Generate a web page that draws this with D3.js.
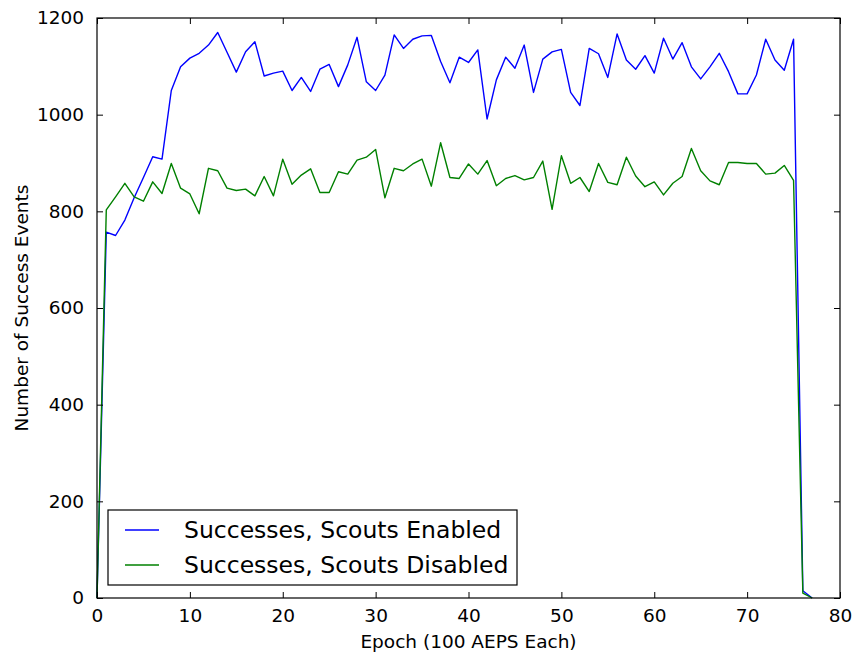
<!DOCTYPE html>
<html>
<head>
<meta charset="utf-8">
<script src="https://cdn.jsdelivr.net/npm/d3@7"></script>
<style>
  body { margin: 0; background: #fff; }
  text { font-family: "DejaVu Sans", sans-serif; fill: #000; }
</style>
</head>
<body>
<div class="chart"></div>
<script>
// values, one per epoch 0..77
var scoutsEnabled = [
  0, 757, 750, 782, 828, 870, 913, 908, 1050, 1099,
  1117, 1127, 1144, 1170, 1129, 1088, 1130, 1151, 1080, 1086,
  1090, 1050, 1077, 1048, 1094, 1104, 1058, 1103, 1160, 1068,
  1050, 1082, 1165, 1137, 1156, 1163, 1164, 1110, 1066, 1119,
  1108, 1134, 991, 1072, 1119, 1096, 1144, 1046, 1115, 1130,
  1135, 1046, 1019, 1137, 1126, 1077, 1167, 1113, 1094, 1122,
  1086, 1158, 1115, 1149, 1099, 1074, 1099, 1127, 1089, 1043,
  1043, 1082, 1156, 1113, 1092, 1156, 15, 0
];
var scoutsDisabled = [
  0, 803, 830, 858, 830, 821, 861, 837, 899, 848,
  836, 795, 889, 884, 848, 843, 846, 832, 872, 832,
  908, 856, 875, 888, 839, 839, 882, 877, 906, 912,
  928, 828, 889, 884, 898, 908, 852, 942, 870, 868,
  898, 877, 905, 853, 868, 874, 865, 870, 904, 804,
  915, 858, 870, 841, 899, 860, 855, 912, 873, 851,
  861, 834, 858, 872, 930, 884, 863, 855, 901, 901,
  899, 899, 877, 879, 895, 864, 10, 0
];
var seriesNames = ["Successes, Scouts Enabled", "Successes, Scouts Disabled"];
var seriesColors = ["#0000ff", "#008000"];
var xTicks = [0, 10, 20, 30, 40, 50, 60, 70, 80];
var yTicks = [0, 200, 400, 600, 800, 1000, 1200];

var margin = { top: 18, right: 12, bottom: 56, left: 97 };
var width = 852 - margin.left - margin.right;
var height = 654 - margin.top - margin.bottom;

var svg = d3.select(".chart")
  .append("svg")
  .attr("width", 852)
  .attr("height", 654)
  .append("g")
  .attr("transform", "translate(" + margin.left + "," + margin.top + ")");

var x = d3.scaleLinear().domain([0, 80]).range([0, width]);
var y = d3.scaleLinear().domain([0, 1200]).range([height, 0]);

// lines first, frame and ticks drawn over them
var line = d3.line()
  .x((d, i) => x(i))
  .y(d => y(d));

[scoutsEnabled, scoutsDisabled].forEach(function (values, k) {
  svg.append("path")
    .datum(values)
    .attr("fill", "none")
    .attr("stroke", seriesColors[k])
    .attr("stroke-width", 1.4)
    .attr("stroke-linejoin", "round")
    .attr("d", line);
});

function styleAxis(g) {
  g.select(".domain").remove();
  g.selectAll(".tick line").attr("stroke", "#000");
  g.selectAll(".tick text").style("font-size", "18.5px");
}

svg.append("g")
  .attr("transform", "translate(0," + height + ")")
  .call(d3.axisBottom(x).tickValues(xTicks).tickSizeInner(-6).tickSizeOuter(0).tickPadding(11))
  .call(styleAxis);

svg.append("g")
  .call(d3.axisTop(x).tickValues(xTicks).tickSizeInner(-6).tickSizeOuter(0).tickFormat(""))
  .call(styleAxis);

svg.append("g")
  .call(d3.axisLeft(y).tickValues(yTicks).tickFormat(d3.format("d")).tickSizeInner(-6).tickSizeOuter(0).tickPadding(13))
  .call(styleAxis);

svg.append("g")
  .attr("transform", "translate(" + width + ",0)")
  .call(d3.axisRight(y).tickValues(yTicks).tickSizeInner(-6).tickSizeOuter(0).tickFormat(""))
  .call(styleAxis);

svg.append("rect")
  .attr("width", width)
  .attr("height", height)
  .attr("fill", "none")
  .attr("stroke", "#000")
  .attr("stroke-width", 1.2);

svg.append("text")
  .attr("x", width / 2)
  .attr("y", height + 50)
  .attr("text-anchor", "middle")
  .style("font-size", "18.5px")
  .text("Epoch (100 AEPS Each)");

svg.append("text")
  .attr("transform", "translate(" + (-69) + "," + (height / 2) + ") rotate(-90)")
  .attr("text-anchor", "middle")
  .style("font-size", "18.5px")
  .text("Number of Success Events");

// legend
var legend = svg.append("g")
  .attr("transform", "translate(11," + (height - 88) + ")");

legend.append("rect")
  .attr("width", 409)
  .attr("height", 75)
  .attr("fill", "#fff")
  .attr("stroke", "#000")
  .attr("stroke-width", 1.2);

seriesNames.forEach(function (name, k) {
  var row = legend.append("g")
    .attr("transform", "translate(0," + (20 + k * 35) + ")");
  row.append("line")
    .attr("x1", 17).attr("x2", 51)
    .attr("stroke", seriesColors[k])
    .attr("stroke-width", 1.4);
  row.append("text")
    .attr("x", 76)
    .attr("dy", "0.35em")
    .style("font-size", "23.5px")
    .text(name);
});
</script>
</body>
</html>
